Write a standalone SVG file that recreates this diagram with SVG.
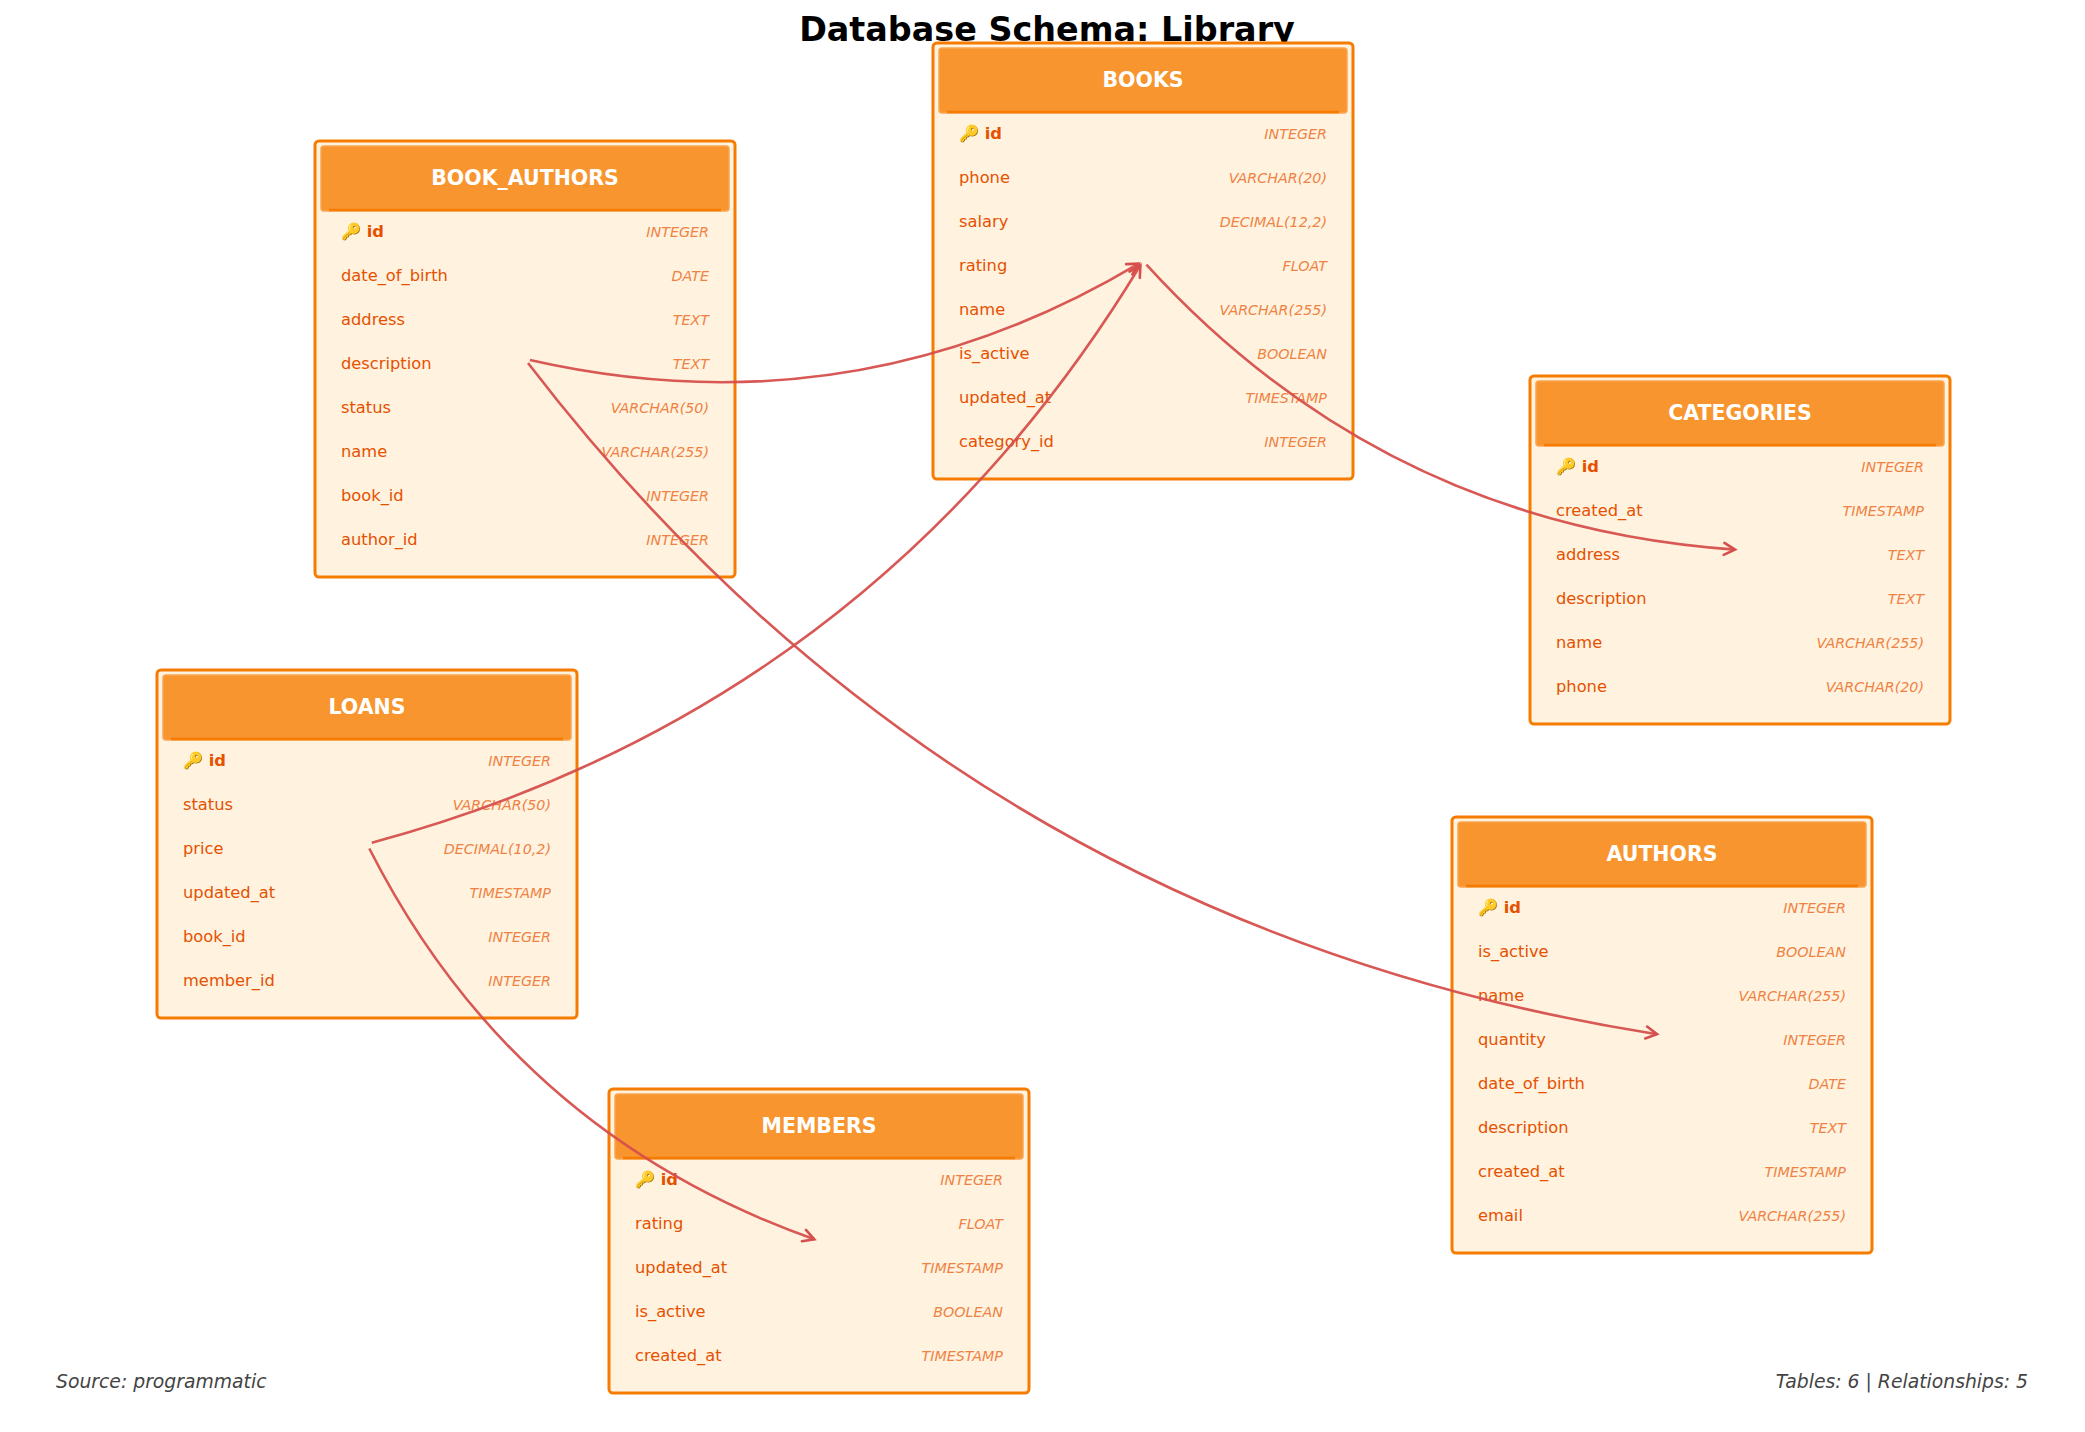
<svg xmlns="http://www.w3.org/2000/svg" width="2085" height="1432" viewBox="0 0 2085 1432">
<defs>
<style>
.box{fill:#fff3e0;stroke:#f57c00;stroke-width:3}
.hdr{fill:#f8952f;stroke:#f9a550;stroke-width:1.5}
.hline{stroke:#f57c00;stroke-width:2.5}
.ht{font-family:"DejaVu Sans",sans-serif;font-weight:bold;font-size:20.5px;fill:#ffffff;text-anchor:middle}
.fn{font-family:"DejaVu Sans",sans-serif;font-size:16.3px;fill:#e65100}
.pk{font-weight:bold}
.ty{font-family:"DejaVu Sans",sans-serif;font-style:italic;font-size:14.3px;fill:#ef8243;text-anchor:end}
.title{font-family:"DejaVu Sans",sans-serif;font-weight:bold;font-size:33.4px;fill:#000;text-anchor:middle}
.foot{font-family:"DejaVu Sans",sans-serif;font-style:italic;font-size:18.8px;fill:#444444}
.rel{fill:none;stroke:#d64f4c;stroke-width:2.6;stroke-opacity:0.95}
</style>
<marker id="arr" markerUnits="userSpaceOnUse" markerWidth="30" markerHeight="30" refX="0" refY="0" viewBox="-15 -15 30 30" orient="auto" overflow="visible">
<path d="M-11,-6 L0,0 L-11,6" fill="none" stroke="#d64f4c" stroke-width="2.6" stroke-linecap="round" stroke-linejoin="miter"/>
</marker>
</defs>
<rect width="2085" height="1432" fill="#ffffff"/>
<text class="title" x="1047" y="41">Database Schema: Library</text>

<g id="book_authors">
<rect class="box" x="315" y="141" width="420" height="436" rx="4"/>
<rect class="hdr" x="321" y="146" width="408" height="65" rx="3"/>
<line class="hline" x1="329" y1="210" x2="721" y2="210"/>
<text class="ht" x="525" y="185">BOOK_AUTHORS</text>
<text class="fn pk" x="341" y="237">🔑 id</text><text class="ty" x="709" y="237">INTEGER</text>
<text class="fn" x="341" y="281">date_of_birth</text><text class="ty" x="709" y="281">DATE</text>
<text class="fn" x="341" y="325">address</text><text class="ty" x="709" y="325">TEXT</text>
<text class="fn" x="341" y="369">description</text><text class="ty" x="709" y="369">TEXT</text>
<text class="fn" x="341" y="413">status</text><text class="ty" x="709" y="413">VARCHAR(50)</text>
<text class="fn" x="341" y="457">name</text><text class="ty" x="709" y="457">VARCHAR(255)</text>
<text class="fn" x="341" y="501">book_id</text><text class="ty" x="709" y="501">INTEGER</text>
<text class="fn" x="341" y="545">author_id</text><text class="ty" x="709" y="545">INTEGER</text>
</g>

<g id="books">
<rect class="box" x="933" y="43" width="420" height="436" rx="4"/>
<rect class="hdr" x="939" y="48" width="408" height="65" rx="3"/>
<line class="hline" x1="947" y1="112" x2="1339" y2="112"/>
<text class="ht" x="1143" y="87">BOOKS</text>
<text class="fn pk" x="959" y="139">🔑 id</text><text class="ty" x="1327" y="139">INTEGER</text>
<text class="fn" x="959" y="183">phone</text><text class="ty" x="1327" y="183">VARCHAR(20)</text>
<text class="fn" x="959" y="227">salary</text><text class="ty" x="1327" y="227">DECIMAL(12,2)</text>
<text class="fn" x="959" y="271">rating</text><text class="ty" x="1327" y="271">FLOAT</text>
<text class="fn" x="959" y="315">name</text><text class="ty" x="1327" y="315">VARCHAR(255)</text>
<text class="fn" x="959" y="359">is_active</text><text class="ty" x="1327" y="359">BOOLEAN</text>
<text class="fn" x="959" y="403">updated_at</text><text class="ty" x="1327" y="403">TIMESTAMP</text>
<text class="fn" x="959" y="447">category_id</text><text class="ty" x="1327" y="447">INTEGER</text>
</g>

<g id="categories">
<rect class="box" x="1530" y="376" width="420" height="348" rx="4"/>
<rect class="hdr" x="1536" y="381" width="408" height="65" rx="3"/>
<line class="hline" x1="1544" y1="445" x2="1936" y2="445"/>
<text class="ht" x="1740" y="420">CATEGORIES</text>
<text class="fn pk" x="1556" y="472">🔑 id</text><text class="ty" x="1924" y="472">INTEGER</text>
<text class="fn" x="1556" y="516">created_at</text><text class="ty" x="1924" y="516">TIMESTAMP</text>
<text class="fn" x="1556" y="560">address</text><text class="ty" x="1924" y="560">TEXT</text>
<text class="fn" x="1556" y="604">description</text><text class="ty" x="1924" y="604">TEXT</text>
<text class="fn" x="1556" y="648">name</text><text class="ty" x="1924" y="648">VARCHAR(255)</text>
<text class="fn" x="1556" y="692">phone</text><text class="ty" x="1924" y="692">VARCHAR(20)</text>
</g>

<g id="loans">
<rect class="box" x="157" y="670" width="420" height="348" rx="4"/>
<rect class="hdr" x="163" y="675" width="408" height="65" rx="3"/>
<line class="hline" x1="171" y1="739" x2="563" y2="739"/>
<text class="ht" x="367" y="714">LOANS</text>
<text class="fn pk" x="183" y="766">🔑 id</text><text class="ty" x="551" y="766">INTEGER</text>
<text class="fn" x="183" y="810">status</text><text class="ty" x="551" y="810">VARCHAR(50)</text>
<text class="fn" x="183" y="854">price</text><text class="ty" x="551" y="854">DECIMAL(10,2)</text>
<text class="fn" x="183" y="898">updated_at</text><text class="ty" x="551" y="898">TIMESTAMP</text>
<text class="fn" x="183" y="942">book_id</text><text class="ty" x="551" y="942">INTEGER</text>
<text class="fn" x="183" y="986">member_id</text><text class="ty" x="551" y="986">INTEGER</text>
</g>

<g id="authors">
<rect class="box" x="1452" y="817" width="420" height="436" rx="4"/>
<rect class="hdr" x="1458" y="822" width="408" height="65" rx="3"/>
<line class="hline" x1="1466" y1="886" x2="1858" y2="886"/>
<text class="ht" x="1662" y="861">AUTHORS</text>
<text class="fn pk" x="1478" y="913">🔑 id</text><text class="ty" x="1846" y="913">INTEGER</text>
<text class="fn" x="1478" y="957">is_active</text><text class="ty" x="1846" y="957">BOOLEAN</text>
<text class="fn" x="1478" y="1001">name</text><text class="ty" x="1846" y="1001">VARCHAR(255)</text>
<text class="fn" x="1478" y="1045">quantity</text><text class="ty" x="1846" y="1045">INTEGER</text>
<text class="fn" x="1478" y="1089">date_of_birth</text><text class="ty" x="1846" y="1089">DATE</text>
<text class="fn" x="1478" y="1133">description</text><text class="ty" x="1846" y="1133">TEXT</text>
<text class="fn" x="1478" y="1177">created_at</text><text class="ty" x="1846" y="1177">TIMESTAMP</text>
<text class="fn" x="1478" y="1221">email</text><text class="ty" x="1846" y="1221">VARCHAR(255)</text>
</g>

<g id="members">
<rect class="box" x="609" y="1089" width="420" height="304" rx="4"/>
<rect class="hdr" x="615" y="1094" width="408" height="65" rx="3"/>
<line class="hline" x1="623" y1="1158" x2="1015" y2="1158"/>
<text class="ht" x="819" y="1133">MEMBERS</text>
<text class="fn pk" x="635" y="1185">🔑 id</text><text class="ty" x="1003" y="1185">INTEGER</text>
<text class="fn" x="635" y="1229">rating</text><text class="ty" x="1003" y="1229">FLOAT</text>
<text class="fn" x="635" y="1273">updated_at</text><text class="ty" x="1003" y="1273">TIMESTAMP</text>
<text class="fn" x="635" y="1317">is_active</text><text class="ty" x="1003" y="1317">BOOLEAN</text>
<text class="fn" x="635" y="1361">created_at</text><text class="ty" x="1003" y="1361">TIMESTAMP</text>
</g>

<g id="connectors">
<path class="rel" marker-end="url(#arr)" d="M529.9,360.1 Q853.6,433.6 1138.7,263.6"/>
<path class="rel" marker-end="url(#arr)" d="M528,363 Q958.3,924.4 1657,1034.2"/>
<path class="rel" marker-end="url(#arr)" d="M1146.4,264.7 Q1383.7,524.9 1735,549.6"/>
<path class="rel" marker-end="url(#arr)" d="M371.8,842.7 Q871.6,707.7 1140.4,265.3"/>
<path class="rel" marker-end="url(#arr)" d="M369.3,848.5 Q513.6,1132.9 814.3,1239.3"/>
</g>

<text class="foot" x="56" y="1388">Source: programmatic</text>
<text class="foot" x="2028" y="1388" text-anchor="end">Tables: 6 | Relationships: 5</text>
</svg>
